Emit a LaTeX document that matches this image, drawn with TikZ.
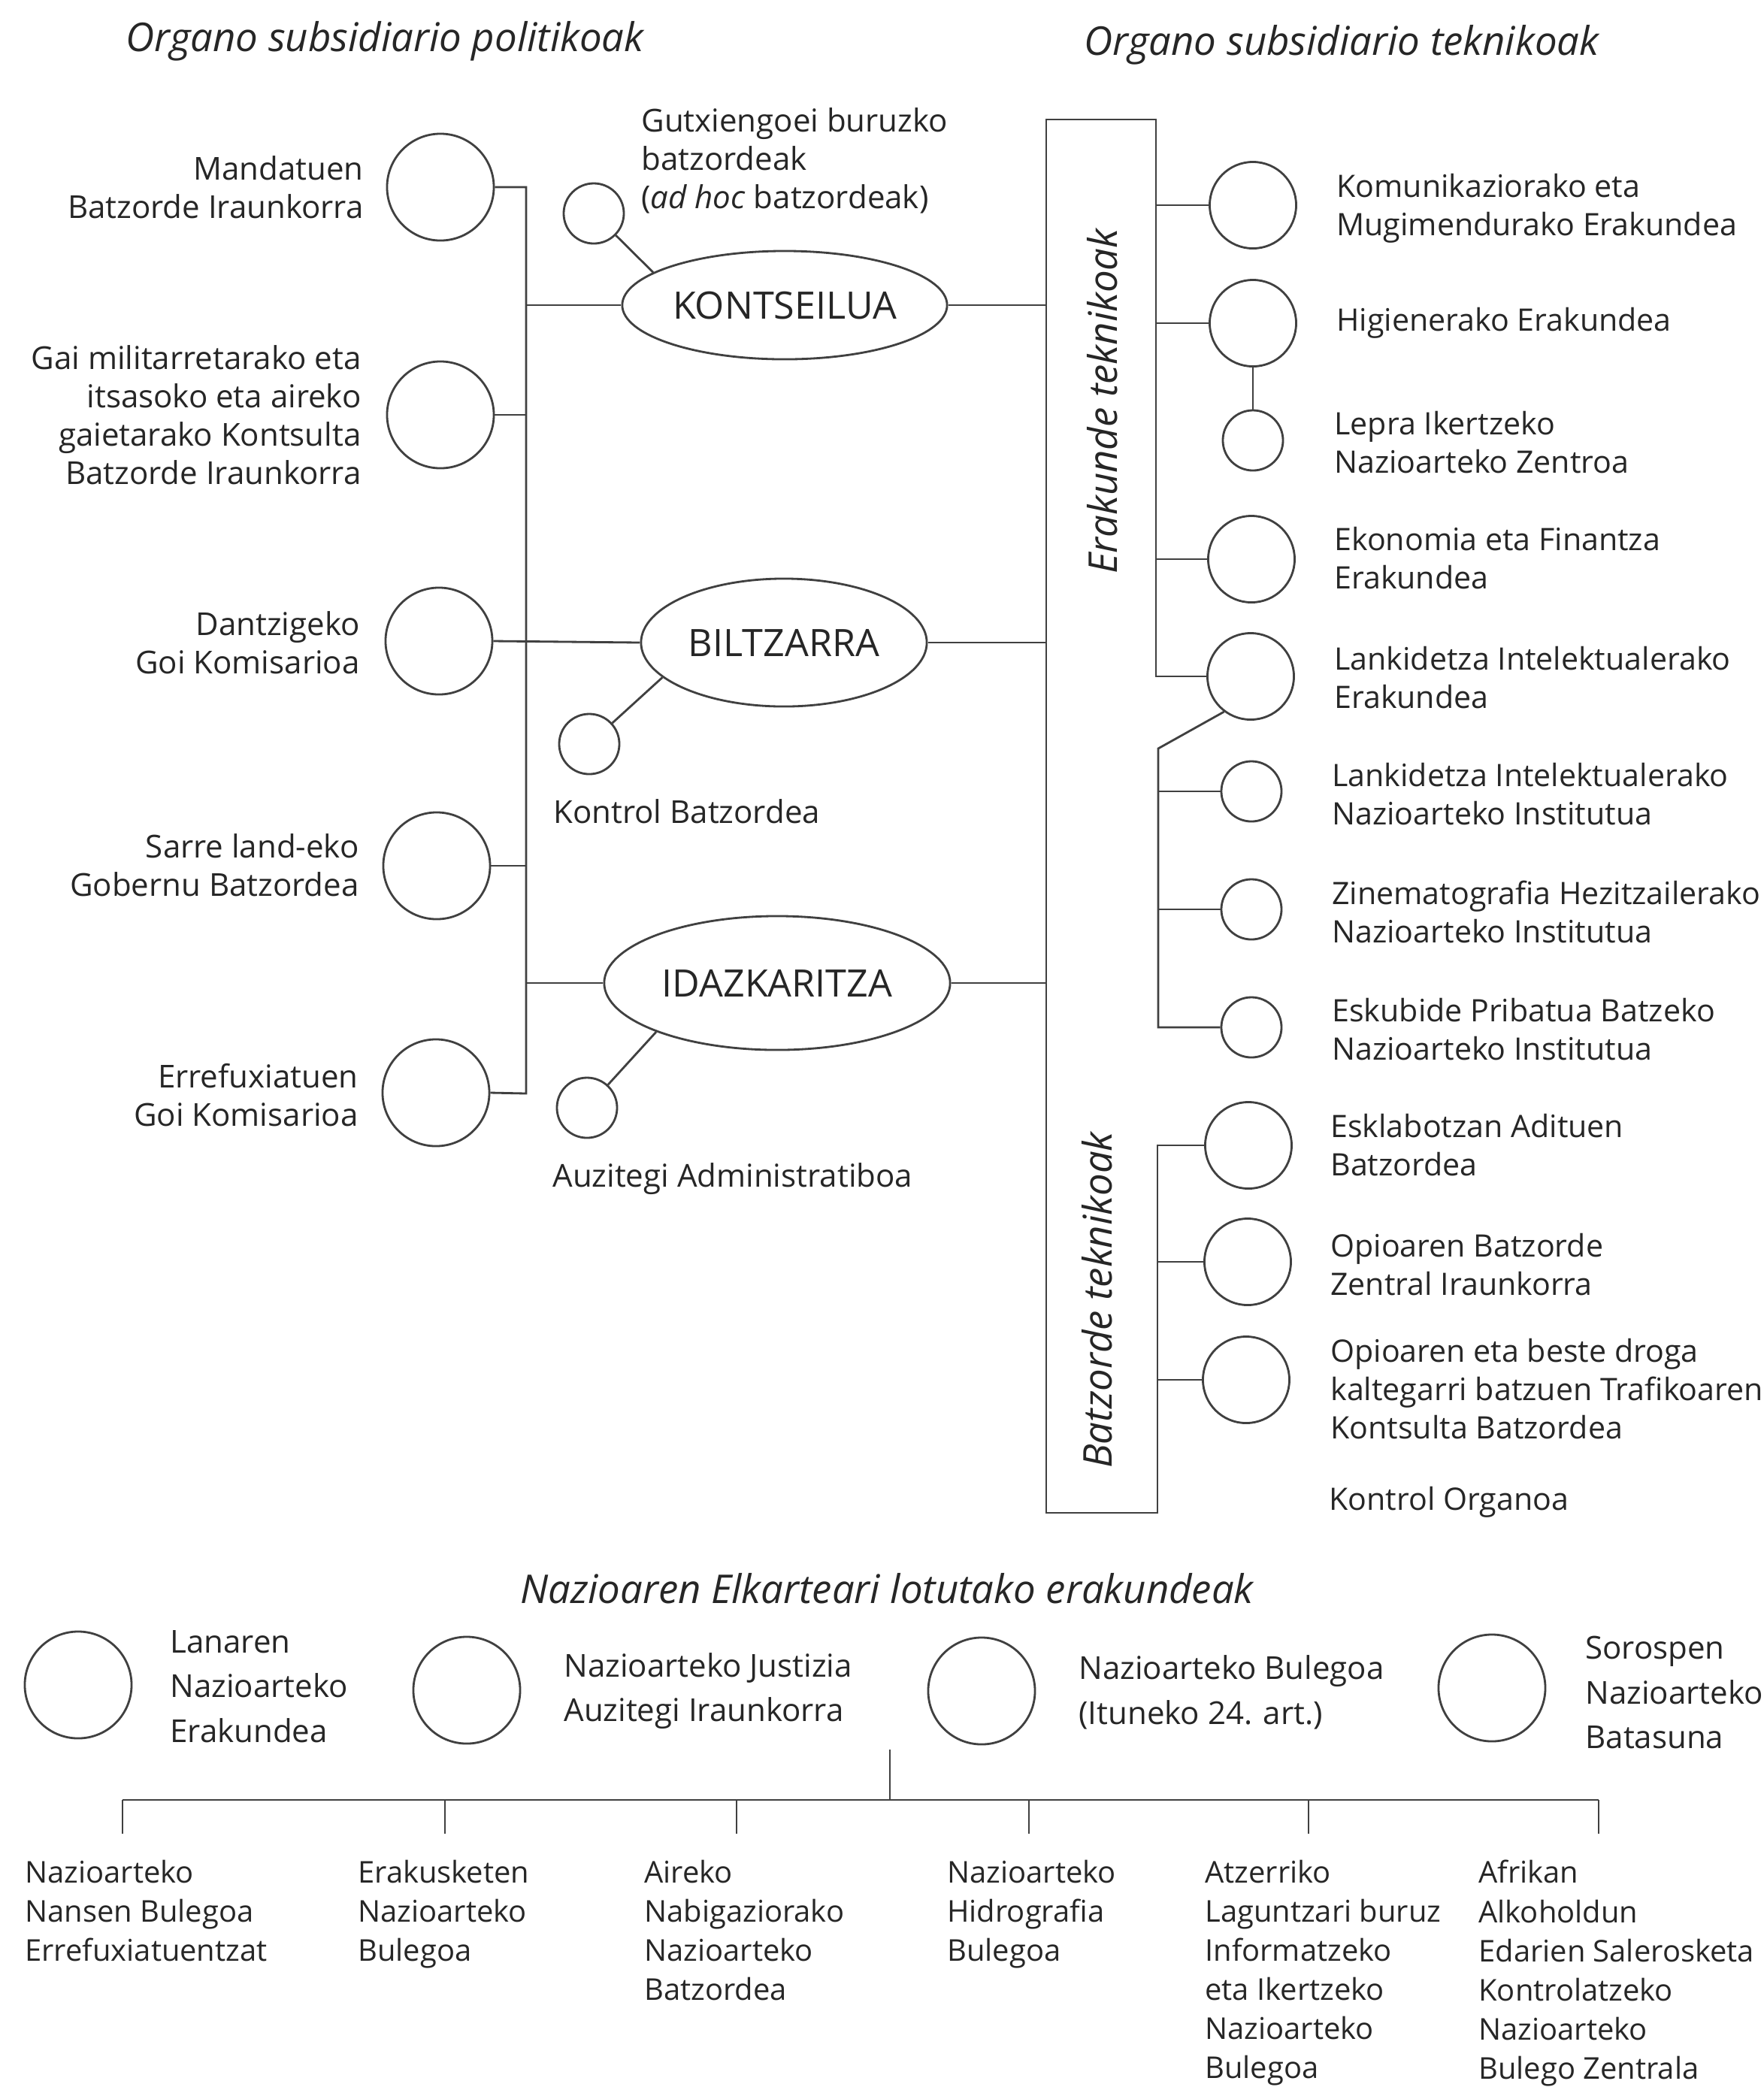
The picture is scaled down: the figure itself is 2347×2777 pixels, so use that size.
\documentclass[tikz,border=0pt]{standalone}
\usepackage{fontspec}
\setmainfont{Open Sans}
\usetikzlibrary{shapes.geometric}
\begin{document}
\begin{tikzpicture}[x=0.01cm, y=-0.01cm, line width=0.8pt, black!75,
	big/.style={draw, circle, minimum size=1.42cm, inner sep=0pt},
	mid/.style={draw, circle, minimum size=1.15cm, inner sep=0pt},
	sml/.style={draw, circle, minimum size=0.8cm, inner sep=0pt},
	org/.style={draw, ellipse, inner sep=0pt, text=black!85, font=\fontsize{14.3}{17}\selectfont},
	lbl/.style={inner sep=0pt, text=black!85, font=\fontsize{11.95}{14.5}\selectfont},
	lblr/.style={lbl, font=\fontsize{11.7}{14.5}\selectfont},
	lblw/.style={lbl, font=\fontsize{11.95}{17}\selectfont},
	lbls/.style={lbl, font=\fontsize{11.35}{14.8}\selectfont},
	hdr/.style={inner sep=0pt, text=black!85, font=\fontsize{15}{18}\selectfont\itshape}]
	\path[fill=white, use as bounding box] (0,0) rectangle (2347,2777);
	
	% titles
	\node[hdr] (TP) at (512,55) {Organo subsidiario politikoak};
	\node[hdr] (TT) at (1785,60) {Organo subsidiario teknikoak};
	
	% political bodies
	\node[big] (M1) at (586,249) {};
	\node[big] (M2) at (586,552) {};
	\node[big] (M3) at (584,853) {};
	\node[big] (M4) at (581,1152) {};
	\node[big] (M5) at (580,1454) {};
	\node[lbl, anchor=east, align=right] (M1l) at (485,249) {Mandatuen\\Batzorde Iraunkorra};
	\node[lbl, anchor=east, align=right] (M2l) at (482,552) {Gai militarretarako eta\\itsasoko eta aireko\\gaietarako Kontsulta\\Batzorde Iraunkorra};
	\node[lbl, anchor=east, align=right] (M3l) at (480,855) {Dantzigeko\\Goi Komisarioa};
	\node[lbl, anchor=east, align=right] (M4l) at (479,1151) {Sarre land-eko\\Gobernu Batzordea};
	\node[lbl, anchor=east, align=right] (M5l) at (478,1457) {Errefuxiatuen\\Goi Komisarioa};
	
	% main organs
	\node[org, minimum width=4.32cm, minimum height=1.44cm] (KON) at (1044,406) {KONTSEILUA};
	\node[org, minimum width=3.80cm, minimum height=1.70cm] (BIL) at (1043,855) {BILTZARRA};
	\node[org, minimum width=4.60cm, minimum height=1.78cm] (IDA) at (1034,1308) {IDAZKARITZA};
	
	\node[sml] (GUT) at (790,284) {};
	\node[sml] (KBA) at (784,990) {};
	\node[sml] (AUZ) at (781,1474) {};
	\node[lbl, anchor=west, align=left] (GUTl) at (852,214) {Gutxiengoei buruzko\\batzordeak\\(\textit{ad hoc} batzordeak)};
	\node[lbl, anchor=west] (KBAl) at (735,1080) {Kontrol Batzordea};
	\node[lbl, anchor=west] (AUZl) at (734,1569) {Auzitegi Administratiboa};
	
	\draw (GUT) -- (KON.166);
	\draw (KBA) -- (BIL.196);
	\draw (AUZ) -- (IDA.202);
	
	% left bus
	\coordinate (BT) at (700,249);
	\coordinate (BB) at (700,1455);
	\draw (M1.east) -- (BT) -- (BB) -- (M5.east);
	\draw (M2.east) -- (M2.east -| BT);
	\draw (M4.east) -- (M4.east -| BT);
	\draw (M3.east) -- (BIL.west);
	\draw (KON.west -| BT) -- (KON.west);
	\draw (IDA.west -| BT) -- (IDA.west);
	
	% technical bodies
	\node[mid] (KOM) at (1667,273) {};
	\node[mid] (HIG) at (1667,430) {};
	\node[sml] (LEP) at (1667,586) {};
	\node[mid] (EKO) at (1665,744) {};
	\node[mid] (LAK) at (1664,900) {};
	\node[sml] (LIN) at (1665,1053) {};
	\node[sml] (ZIN) at (1665,1210) {};
	\node[sml] (ESP) at (1665,1367) {};
	\node[mid] (ESK) at (1661,1524) {};
	\node[mid] (OPB) at (1660,1679) {};
	\node[mid] (OPD) at (1658,1836) {};
	
	\node[lblr, anchor=west, align=left] (KOMl) at (1777,277) {Komunikaziorako eta\\Mugimendurako Erakundea};
	\node[lblr, anchor=west] (HIGl) at (1777,430) {Higienerako Erakundea};
	\node[lblr, anchor=west, align=left] (LEPl) at (1774,589) {Lepra Ikertzeko\\Nazioarteko Zentroa};
	\node[lblr, anchor=west, align=left] (EKOl) at (1774,743) {Ekonomia eta Finantza\\Erakundea};
	\node[lblr, anchor=west, align=left] (LAKl) at (1774,902) {Lankidetza Intelektualerako\\Erakundea};
	\node[lblr, anchor=west, align=left] (LINl) at (1771,1057) {Lankidetza Intelektualerako\\Nazioarteko Institutua};
	\node[lblr, anchor=west, align=left] (ZINl) at (1771,1213) {Zinematografia Hezitzailerako\\Nazioarteko Institutua};
	\node[lblr, anchor=west, align=left] (ESPl) at (1771,1370) {Eskubide Pribatua Batzeko\\Nazioarteko Institutua};
	\node[lblr, anchor=west, align=left] (ESKl) at (1769,1524) {Esklabotzan Adituen\\Batzordea};
	\node[lblr, anchor=west, align=left] (OPBl) at (1769,1683) {Opioaren Batzorde\\Zentral Iraunkorra};
	\node[lblr, anchor=west, align=left] (OPDl) at (1769,1848) {Opioaren eta beste droga\\kaltegarri batzuen Trafikoaren\\Kontsulta Batzordea};
	\node[lblr, anchor=west] (KORl) at (1767,1999) {Kontrol Organoa};
	
	% frame
	\coordinate (RTL) at (1392,159);
	\coordinate (RTR) at (1538,159);
	\coordinate (RBL) at (1392,2013);
	\coordinate (RBR) at (1540,2013);
	\draw (LAK.west) -| (RTR) -- (RTL) -- (RBL) -- (RBR) |- (ESK.west);
	\node[hdr, rotate=90] (ERA) at (1467,534) {Erakunde teknikoak};
	\node[hdr, rotate=90] (BAT) at (1460,1730) {Batzorde teknikoak};
	
	\draw (KON.east) -- (KON.east -| RTL);
	\draw (BIL.east) -- (BIL.east -| RTL);
	\draw (IDA.east) -- (IDA.east -| RTL);
	\draw (KOM.west -| RTR) -- (KOM.west);
	\draw (HIG.west -| RTR) -- (HIG.west);
	\draw (EKO.west -| RTR) -- (EKO.west);
	\draw (HIG) -- (LEP);
	\coordinate (IB) at (1541,996);
	\draw (LAK.233) -- (IB) |- (ESP.west);
	\draw (LIN.west -| IB) -- (LIN.west);
	\draw (ZIN.west -| IB) -- (ZIN.west);
	\draw (OPB.west -| RBR) -- (OPB.west);
	\draw (OPD.west -| RBR) -- (OPD.west);
	
	% related organisations
	\node[hdr] (TN) at (1180,2114) {Nazioaren Elkarteari lotutako erakundeak};
	\node[big] (N1) at (104,2242) {};
	\node[big] (N2) at (621,2249) {};
	\node[big] (N3) at (1306,2250) {};
	\node[big] (N4) at (1985,2246) {};
	\node[lblw, anchor=west, align=left] (N1l) at (225,2244) {Lanaren\\Nazioarteko\\Erakundea};
	\node[lblw, anchor=west, align=left] (N2l) at (749,2250) {Nazioarteko Justizia\\Auzitegi Iraunkorra};
	\node[lblw, anchor=west, align=left] (N3l) at (1434,2252) {Nazioarteko Bulegoa\\(Ituneko 24. art.)};
	\node[lblw, anchor=west, align=left] (N4l) at (2108,2252) {Sorospen\\Nazioarteko\\Batasuna};
	
	\coordinate (ST) at (1184,2328);
	\coordinate (SB) at (1184,2395);
	\coordinate (HL) at (163,2395);
	\coordinate (HR) at (2127,2395);
	\draw (ST) -- (SB);
	\draw (HL) -- (HR);
	\foreach \i/\x in {1/163,2/592,3/980,4/1369,5/1741,6/2127} {
		\coordinate (D\i) at (\x,2440);
		\draw (D\i |- HL) -- (D\i);
	}
	\node[lbls, anchor=north west, align=left] (B1) at (32,2474) {Nazioarteko\\Nansen Bulegoa\\Errefuxiatuentzat};
	\node[lbls, anchor=north west, align=left] (B2) at (475,2474) {Erakusketen\\Nazioarteko\\Bulegoa};
	\node[lbls, anchor=north west, align=left] (B3) at (856,2474) {Aireko\\Nabigaziorako\\Nazioarteko\\Batzordea};
	\node[lbls, anchor=north west, align=left] (B4) at (1259,2474) {Nazioarteko\\Hidrografia\\Bulegoa};
	\node[lbls, anchor=north west, align=left] (B5) at (1602,2474) {Atzerriko\\Laguntzari buruz\\Informatzeko\\eta Ikertzeko\\Nazioarteko\\Bulegoa};
	\node[lbls, anchor=north west, align=left] (B6) at (1966,2474) {Afrikan\\Alkoholdun\\Edarien Salerosketa\\Kontrolatzeko\\Nazioarteko\\Bulego Zentrala};
\end{tikzpicture}
\end{document}
